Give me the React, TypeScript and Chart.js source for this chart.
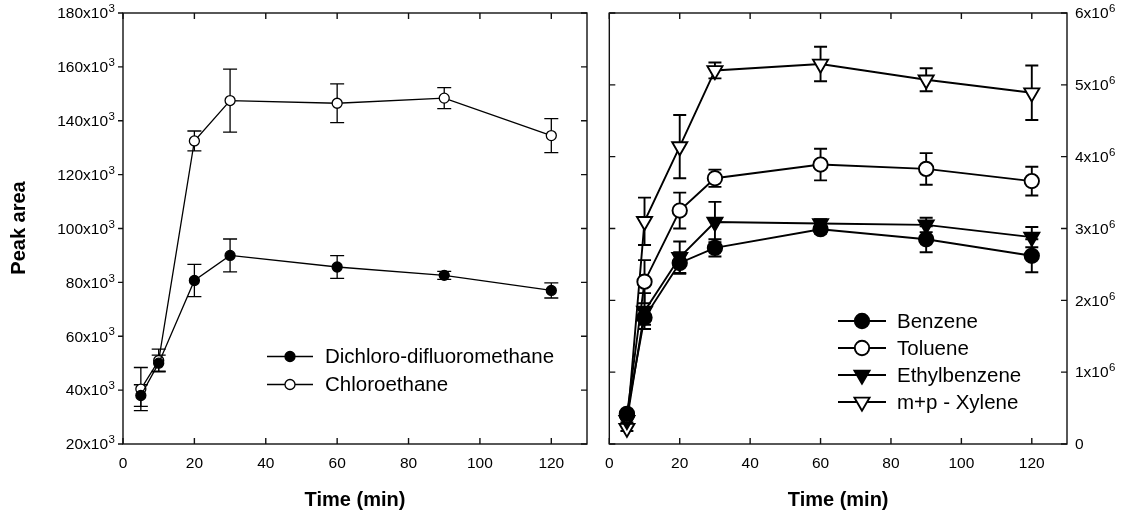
import React, { useEffect, useRef } from 'react';
import { Chart, registerables } from 'chart.js';
Chart.register(...registerables);

// ---------- data ----------
const times = [5, 10, 20, 30, 60, 90, 120];
const xTicks = [0, 20, 40, 60, 80, 100, 120];

// left panel (peak area)
const dichloroValues = [38000, 50000, 80700, 90000, 85700, 82600, 77000];
const dichloroErrors = [4000, 3000, 6000, 6100, 4200, 1500, 2800];
const chloroValues = [40400, 51000, 132500, 147500, 146500, 148400, 134500];
const chloroErrors = [8000, 4200, 3700, 11700, 7200, 3900, 6300];
const leftYTicks = [20000, 40000, 60000, 80000, 100000, 120000, 140000, 160000, 180000];

// right panel (peak area)
const benzeneValues = [420000, 1760000, 2520000, 2730000, 2990000, 2850000, 2620000];
const benzeneErrors = [30000, 100000, 150000, 120000, 60000, 180000, 230000];
const tolueneValues = [400000, 2260000, 3250000, 3700000, 3890000, 3830000, 3660000];
const tolueneErrors = [30000, 300000, 250000, 120000, 220000, 220000, 200000];
const ethylbenzeneValues = [330000, 1850000, 2600000, 3090000, 3070000, 3050000, 2880000];
const ethylbenzeneErrors = [30000, 250000, 220000, 280000, 60000, 100000, 140000];
const xyleneValues = [220000, 3100000, 4140000, 5200000, 5290000, 5070000, 4890000];
const xyleneErrors = [40000, 330000, 440000, 110000, 240000, 160000, 380000];
const rightYTicks = [0, 1000000, 2000000, 3000000, 4000000, 5000000, 6000000];

const FONT = '"Liberation Sans", Arial, "DejaVu Sans", sans-serif';

type Shape = 'circle' | 'triangleDown';
interface SeriesDef {
  label: string;
  values: number[];
  errors: number[];
  shape: Shape;
  filled: boolean;
}

const leftSeries: SeriesDef[] = [
  { label: 'Dichloro-difluoromethane', values: dichloroValues, errors: dichloroErrors, shape: 'circle', filled: true },
  { label: 'Chloroethane', values: chloroValues, errors: chloroErrors, shape: 'circle', filled: false },
];
const rightSeries: SeriesDef[] = [
  { label: 'Benzene', values: benzeneValues, errors: benzeneErrors, shape: 'circle', filled: true },
  { label: 'Toluene', values: tolueneValues, errors: tolueneErrors, shape: 'circle', filled: false },
  { label: 'Ethylbenzene', values: ethylbenzeneValues, errors: ethylbenzeneErrors, shape: 'triangleDown', filled: true },
  { label: 'm+p - Xylene', values: xyleneValues, errors: xyleneErrors, shape: 'triangleDown', filled: false },
];

interface PanelCfg {
  series: SeriesDef[];
  yTicks: number[];
  yLabel: (v: number) => { base: string; sup: string };
  yPosition: 'left' | 'right';
  canvasWidth: number;
  padding: { left: number; right: number; top: number; bottom: number };
  yWidth: number;
  xHeight: number;
  circleR: number;
  triR: number;
  lineWidth: number;
  capHalf: number;
  leftTicksOut: boolean;
  legend: { lineX0: number; lineX1: number; markerX: number; textX: number; rows: number[] };
  yTitle?: string;
}

function drawMarker(ctx: CanvasRenderingContext2D, x: number, y: number, s: SeriesDef, cr: number, tr: number, lw: number) {
  ctx.save();
  ctx.beginPath();
  if (s.shape === 'circle') {
    ctx.arc(x, y, cr, 0, Math.PI * 2);
  } else {
    let rad = Math.PI;
    ctx.moveTo(x + Math.sin(rad) * tr, y - Math.cos(rad) * tr);
    rad += (2 * Math.PI) / 3;
    ctx.lineTo(x + Math.sin(rad) * tr, y - Math.cos(rad) * tr);
    rad += (2 * Math.PI) / 3;
    ctx.lineTo(x + Math.sin(rad) * tr, y - Math.cos(rad) * tr);
    ctx.closePath();
  }
  ctx.fillStyle = s.filled ? '#000' : '#fff';
  ctx.fill();
  ctx.lineWidth = lw;
  ctx.strokeStyle = '#000';
  ctx.stroke();
  ctx.restore();
}

function makePlugin(cfg: PanelCfg) {
  return {
    id: 'panelDecor',
    beforeDatasetsDraw(chart: any) {
      const ctx: CanvasRenderingContext2D = chart.ctx;
      const y = chart.scales.y;
      ctx.save();
      ctx.strokeStyle = '#000';
      ctx.lineWidth = cfg.lineWidth;
      cfg.series.forEach((s, di) => {
        const meta = chart.getDatasetMeta(di);
        meta.data.forEach((pt: any, i: number) => {
          const e = s.errors[i];
          if (!e) return;
          const yTop = y.getPixelForValue(s.values[i] + e);
          const yBot = y.getPixelForValue(s.values[i] - e);
          const x = pt.x;
          ctx.beginPath();
          ctx.moveTo(x, yTop);
          ctx.lineTo(x, yBot);
          ctx.moveTo(x - cfg.capHalf, yTop);
          ctx.lineTo(x + cfg.capHalf, yTop);
          ctx.moveTo(x - cfg.capHalf, yBot);
          ctx.lineTo(x + cfg.capHalf, yBot);
          ctx.stroke();
        });
      });
      ctx.restore();
    },
    afterDraw(chart: any) {
      const ctx: CanvasRenderingContext2D = chart.ctx;
      const a = chart.chartArea;
      const xs = chart.scales.x;
      const ys = chart.scales.y;
      ctx.save();
      ctx.strokeStyle = '#111';
      ctx.lineWidth = 1.4;
      ctx.strokeRect(a.left, a.top, a.right - a.left, a.bottom - a.top);
      ctx.beginPath();
      const tl = 6;
      xTicks.forEach((v) => {
        const px = xs.getPixelForValue(v);
        ctx.moveTo(px, a.bottom);
        ctx.lineTo(px, a.bottom - tl);
        ctx.moveTo(px, a.top);
        ctx.lineTo(px, a.top + tl);
      });
      cfg.yTicks.forEach((v) => {
        const py = ys.getPixelForValue(v);
        if (cfg.leftTicksOut) {
          ctx.moveTo(a.left, py);
          ctx.lineTo(a.left - 5, py);
        } else {
          ctx.moveTo(a.left, py);
          ctx.lineTo(a.left + tl, py);
        }
        ctx.moveTo(a.right, py);
        ctx.lineTo(a.right - tl, py);
      });
      ctx.stroke();

      // y tick labels with superscript exponent
      ctx.fillStyle = '#000';
      ctx.textBaseline = 'middle';
      ctx.textAlign = 'left';
      const baseFont = `15.5px ${FONT}`;
      const supFont = `11.5px ${FONT}`;
      cfg.yTicks.forEach((v) => {
        const py = ys.getPixelForValue(v) + 1;
        const { base, sup } = cfg.yLabel(v);
        ctx.font = baseFont;
        const wb = ctx.measureText(base).width;
        ctx.font = supFont;
        const ws = sup ? ctx.measureText(sup).width + 0.5 : 0;
        let x0: number;
        if (cfg.yPosition === 'left') x0 = a.left - 8 - wb - ws;
        else x0 = a.right + 8;
        ctx.font = baseFont;
        ctx.fillText(base, x0, py);
        if (sup) {
          ctx.font = supFont;
          ctx.fillText(sup, x0 + wb + 0.5, py - 5);
        }
      });

      // axis titles
      ctx.fillStyle = '#000';
      ctx.font = `bold 20px ${FONT}`;
      ctx.textAlign = 'center';
      ctx.textBaseline = 'middle';
      ctx.fillText('Time (min)', (a.left + a.right) / 2, 500);
      if (cfg.yTitle) {
        ctx.save();
        ctx.translate(19, 228);
        ctx.rotate(-Math.PI / 2);
        ctx.fillText(cfg.yTitle, 0, 0);
        ctx.restore();
      }

      // legend
      const L = cfg.legend;
      ctx.font = `20.5px ${FONT}`;
      ctx.textAlign = 'left';
      ctx.textBaseline = 'middle';
      cfg.series.forEach((s, i) => {
        const ry = L.rows[i];
        ctx.beginPath();
        ctx.lineWidth = cfg.lineWidth;
        ctx.strokeStyle = '#000';
        ctx.moveTo(L.lineX0, ry);
        ctx.lineTo(L.lineX1, ry);
        ctx.stroke();
        drawMarker(ctx, L.markerX, ry, s, cfg.circleR, cfg.triR, cfg.lineWidth);
        ctx.fillStyle = '#000';
        ctx.fillText(s.label, L.textX, ry + 1);
      });
      ctx.restore();
    },
  };
}

function Panel({ cfg, left }: { cfg: PanelCfg; left: number }) {
  const ref = useRef<HTMLCanvasElement | null>(null);
  useEffect(() => {
    if (!ref.current) return;
    const datasets = cfg.series.map((s) => ({
      label: s.label,
      data: times.map((t, i) => ({ x: t, y: s.values[i] })),
      borderColor: '#000',
      borderWidth: cfg.lineWidth,
      backgroundColor: s.filled ? '#000' : '#fff',
      pointBackgroundColor: s.filled ? '#000' : '#fff',
      pointBorderColor: '#000',
      pointBorderWidth: cfg.lineWidth,
      pointStyle: s.shape === 'circle' ? 'circle' : 'triangle',
      pointRotation: s.shape === 'circle' ? 0 : 180,
      pointRadius: s.shape === 'circle' ? cfg.circleR : cfg.triR,
      tension: 0,
      fill: false,
    }));
    const chart = new Chart(ref.current, {
      type: 'line',
      data: { datasets } as any,
      options: {
        animation: false,
        responsive: false,
        devicePixelRatio: 1,
        layout: { padding: cfg.padding },
        plugins: { legend: { display: false }, tooltip: { enabled: false } },
        scales: {
          x: {
            type: 'linear',
            min: 0,
            max: 130,
            afterBuildTicks: (s: any) => {
              s.ticks = xTicks.map((v) => ({ value: v }));
            },
            afterFit: (s: any) => {
              s.height = cfg.xHeight;
            },
            grid: { display: false, drawTicks: false },
            border: { display: false },
            ticks: {
              padding: 10,
              color: '#000',
              font: { size: 15.5, family: FONT },
              maxRotation: 0,
              autoSkip: false,
            },
          },
          y: {
            type: 'linear',
            position: cfg.yPosition,
            min: cfg.yTicks[0],
            max: cfg.yTicks[cfg.yTicks.length - 1],
            afterBuildTicks: (s: any) => {
              s.ticks = cfg.yTicks.map((v) => ({ value: v }));
            },
            afterFit: (s: any) => {
              s.width = cfg.yWidth;
            },
            grid: { display: false, drawTicks: false },
            border: { display: false },
            ticks: { display: false },
          },
        },
      } as any,
      plugins: [makePlugin(cfg)],
    });
    return () => chart.destroy();
  }, [cfg]);
  return (
    <canvas
      ref={ref}
      width={cfg.canvasWidth}
      height={512}
      style={{ position: 'absolute', left, top: 0, width: cfg.canvasWidth, height: 512 }}
    />
  );
}

const leftCfg: PanelCfg = {
  series: leftSeries,
  yTicks: leftYTicks,
  yLabel: (v) => ({ base: `${Math.round(v / 1000)}x10`, sup: '3' }),
  yPosition: 'left',
  canvasWidth: 595,
  padding: { left: 0, right: 8, top: 13, bottom: 0 },
  yWidth: 123,
  xHeight: 68,
  circleR: 5,
  triR: 6,
  lineWidth: 1.3,
  capHalf: 7,
  leftTicksOut: true,
  legend: { lineX0: 267, lineX1: 313, markerX: 290, textX: 325, rows: [356.5, 384.5] },
  yTitle: 'Peak area',
};

const rightCfg: PanelCfg = {
  series: rightSeries,
  yTicks: rightYTicks,
  yLabel: (v) => (v === 0 ? { base: '0', sup: '' } : { base: `${Math.round(v / 1e6)}x10`, sup: '6' }),
  yPosition: 'right',
  canvasWidth: 528,
  padding: { left: 8, right: 0, top: 13, bottom: 0 },
  yWidth: 56,
  xHeight: 68,
  circleR: 7.2,
  triR: 8.7,
  lineWidth: 1.9,
  capHalf: 6.5,
  leftTicksOut: false,
  legend: { lineX0: 243, lineX1: 291, markerX: 267, textX: 302, rows: [321, 348, 375, 402] },
};

export default function App() {
  useEffect(() => {
    document.body.style.margin = '0';
  }, []);
  return (
    <div style={{ position: 'relative', width: 1123, height: 512, background: '#fff' }}>
      <Panel cfg={leftCfg} left={0} />
      <Panel cfg={rightCfg} left={595} />
    </div>
  );
}
